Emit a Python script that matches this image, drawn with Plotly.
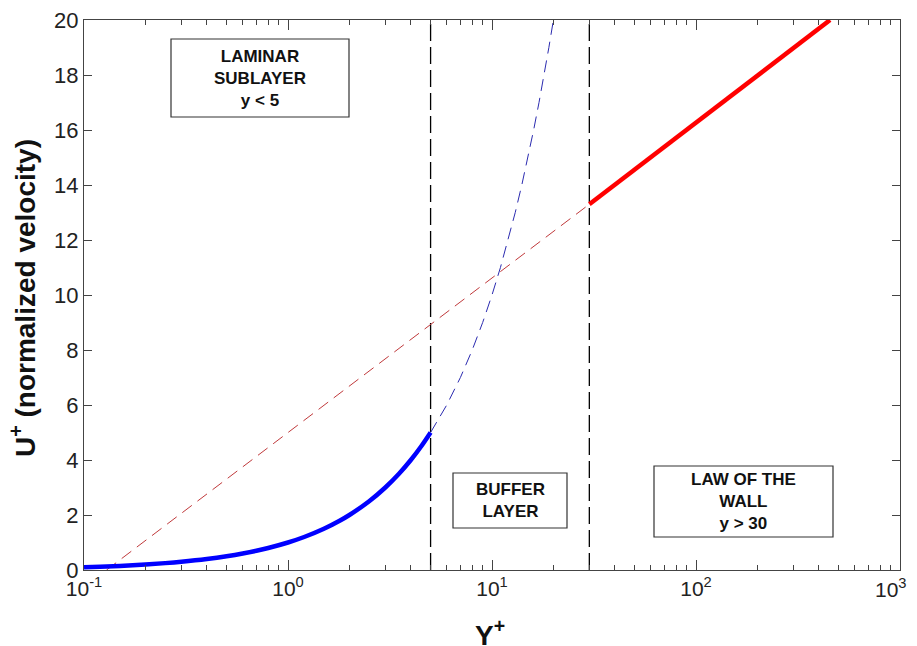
import plotly.graph_objects as go

# ---- data ----
# laminar sublayer (solid blue), y+ from 0.1 to 5
yplus_lam = [0.1, 0.12, 0.15, 0.2, 0.25, 0.3, 0.4, 0.5, 0.6, 0.7, 0.8, 1.0, 1.2, 1.5, 1.8, 2.0, 2.5, 3.0, 3.5, 4.0, 4.5, 5.0]
uplus_lam = [0.1, 0.12, 0.15, 0.2, 0.25, 0.3, 0.4, 0.5, 0.6, 0.7, 0.8, 1.0, 1.2, 1.5, 1.8, 2.0, 2.5, 3.0, 3.5, 4.0, 4.5, 5.0]
# continuation of the laminar relation (dashed blue)
yplus_lam_ext = [5, 6, 7, 8, 9, 10, 11, 12, 13, 14, 15, 16, 17, 18, 19, 20]
uplus_lam_ext = [5, 6, 7, 8, 9, 10, 11, 12, 13, 14, 15, 16, 17, 18, 19, 20]
# log law extrapolated (dashed red)
yplus_log_ext = [0.129, 30]
uplus_log_ext = [0.0, 13.3]
# log law region (solid red)
yplus_log = [30, 454]
uplus_log = [13.3, 20.0]
# region boundaries
boundaries = [5, 30]
u_range = [0, 20]

x_decades = [0.1, 1, 10, 100, 1000]
x_tick_labels = ["10<sup>-1</sup>", "10<sup>0</sup>", "10<sup>1</sup>", "10<sup>2</sup>", "10<sup>3</sup>"]
y_ticks = [0, 2, 4, 6, 8, 10, 12, 14, 16, 18, 20]
x_title = "Y<sup>+</sup>"
y_title = "U<sup>+</sup> (normalized velocity)"

FONT = "Liberation Sans, Arial, sans-serif"

fig = go.Figure()

for b in boundaries:
    fig.add_trace(go.Scatter(x=[b, b], y=u_range, mode="lines",
                             line=dict(color="black", width=1.3, dash="17px,6px"),
                             showlegend=False, hoverinfo="skip"))

fig.add_trace(go.Scatter(x=yplus_log_ext, y=uplus_log_ext, mode="lines",
                         line=dict(color="#c0393b", width=1, dash="12px,7px"),
                         showlegend=False))
fig.add_trace(go.Scatter(x=yplus_lam_ext, y=uplus_lam_ext, mode="lines",
                         line=dict(color="#2b2bb0", width=1, dash="12px,7px"),
                         showlegend=False))
fig.add_trace(go.Scatter(x=yplus_lam, y=uplus_lam, mode="lines",
                         line=dict(color="#0000ff", width=4.5, shape="spline"),
                         showlegend=False))
fig.add_trace(go.Scatter(x=yplus_log, y=uplus_log, mode="lines",
                         line=dict(color="#ff0000", width=4.5),
                         showlegend=False))

# page offset (browser body margin) and plot area in screen pixels
OFF = 8
W, H = 917, 646 - OFF
L, R, T, B = 84, 900, 20, 570
def px(xp):
    return (xp - L) / (R - L)
def py(yp):
    return (B - yp) / (B - T)

boxes = [
    ((171, 349, 39, 117), "LAMINAR<br>SUBLAYER<br>y < 5"),
    ((453, 567, 473, 528), "BUFFER<br>LAYER"),
    ((654, 833, 466, 537), "LAW OF THE<br>WALL<br>y > 30"),
]
for (x0, x1, y0, y1), txt in boxes:
    fig.add_shape(type="rect", xref="paper", yref="paper",
                  x0=px(x0), x1=px(x1), y0=py(y1), y1=py(y0),
                  line=dict(color="#333333", width=1.2), fillcolor="white", layer="above")
    fig.add_annotation(xref="paper", yref="paper",
                       x=px((x0 + x1) / 2), y=py((y0 + y1) / 2),
                       text=txt, showarrow=False, xanchor="center", yanchor="middle",
                       font=dict(family=FONT, size=17, color="#111111", weight="bold"))

# axis titles
fig.add_annotation(xref="paper", yref="paper", x=px(490), y=py(633),
                   text=x_title, showarrow=False, xanchor="center", yanchor="middle",
                   font=dict(family=FONT, size=28, color="#111111", weight="bold"))
fig.add_annotation(xref="paper", yref="paper", x=px(23), y=py(298),
                   text=y_title, showarrow=False, xanchor="center", yanchor="middle",
                   textangle=-90,
                   font=dict(family=FONT, size=28, color="#111111", weight="bold"))

# last decade label sits at the right edge of the page: anchor it so it stays visible
fig.add_annotation(xref="paper", yref="paper", x=px(909), y=py(573),
                   text=x_tick_labels[-1], showarrow=False, xanchor="right", yanchor="top",
                   font=dict(family=FONT, size=21, color="#222222"))

minor_x = [m * d for d in x_decades[:-1] for m in range(2, 10)]

fig.update_layout(
    width=W, height=H,
    margin=dict(l=L - OFF, r=W - (R - OFF), t=T - OFF, b=H - (B - OFF), autoexpand=False),
    paper_bgcolor="white", plot_bgcolor="white",
    font=dict(family=FONT, color="#222222"),
    showlegend=False,
)
fig.update_xaxes(
    type="log", range=[-1, 3], tickvals=x_decades,
    ticktext=x_tick_labels[:-1] + [""],
    ticks="inside", ticklen=10, tickcolor="#444444", tickwidth=1,
    minor=dict(ticks="inside", ticklen=5, tickvals=minor_x, tickcolor="#444444",
               tickwidth=1, showgrid=False),
    showline=True, linecolor="#444444", linewidth=1.2, mirror="ticks",
    showgrid=False, zeroline=False, automargin=False, ticklabeloverflow="allow",
    tickfont=dict(size=21, family=FONT, color="#222222"),
)
fig.update_yaxes(
    range=[0, 20], tickvals=y_ticks,
    ticks="inside", ticklen=8, tickcolor="#444444", tickwidth=1,
    showline=True, linecolor="#444444", linewidth=1.2, mirror="ticks",
    showgrid=False, zeroline=False, automargin=False, ticklabeloverflow="allow",
    tickfont=dict(size=22, family=FONT, color="#222222"),
)

fig.write_html("out.html")
